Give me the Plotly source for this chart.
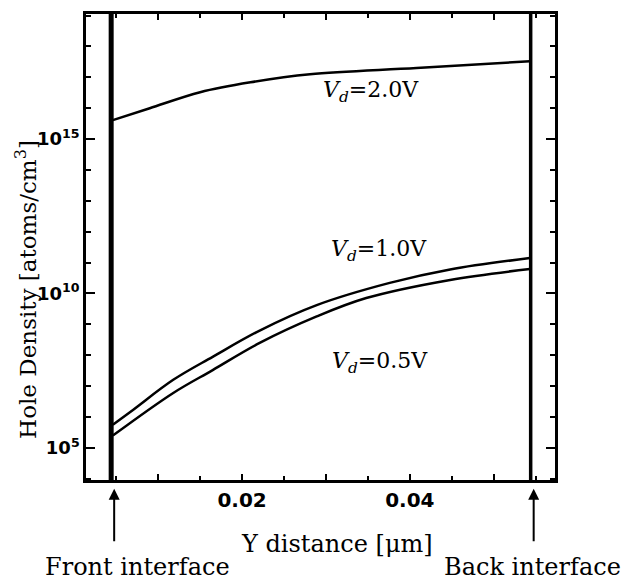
import plotly.graph_objects as go

# ---- data ----
x_vd20 = [0.0046, 0.0090, 0.0150, 0.0210, 0.0281, 0.0408, 0.0543]
n_vd20 = [4.1e15, 1.0e16, 3.3e16, 6.9e16, 1.26e17, 2.0e17, 3.3e17]

x_vd10 = [0.0046, 0.0070, 0.0118, 0.0165, 0.0221, 0.0289, 0.0376, 0.0448, 0.0543]
n_vd10 = [5.6e5, 1.7e6, 1.6e7, 8.9e7, 6.3e8, 4.2e9, 2.2e10, 6.0e10, 1.4e11]

x_vd05 = [0.0046, 0.0118, 0.0165, 0.0221, 0.0289, 0.0348, 0.0448, 0.0543]
n_vd05 = [2.5e5, 6.0e6, 3.3e7, 2.5e8, 1.8e9, 7.1e9, 2.75e10, 6.2e10]

interfaces = [0.0044, 0.0544]
interface_names = ["Front interface", "Back interface"]

x_tickvals = [0.01, 0.02, 0.03, 0.04, 0.05]
x_ticktext = ["", "0.02", "", "0.04", ""]
y_tickvals = [1e5, 1e10, 1e15]
y_ticktext = ["10<sup>5</sup>", "10<sup>10</sup>", "10<sup>15</sup>"]
y_minor = [10.0 ** k for k in range(4, 20)]

labels = ["<i>V<sub>d</sub></i>=2.0V", "<i>V<sub>d</sub></i>=1.0V", "<i>V<sub>d</sub></i>=0.5V"]
label_x = [0.0354, 0.0363, 0.0364]
label_logy = [16.55, 11.38, 7.75]

SERIF = "DejaVu Serif"
SANS = "DejaVu Sans"

fig = go.Figure()
for xs, ys in [(x_vd20, n_vd20), (x_vd10, n_vd10), (x_vd05, n_vd05)]:
    fig.add_trace(go.Scatter(x=xs, y=ys, mode="lines",
                             line=dict(color="black", width=2.5, shape="spline", smoothing=1.0),
                             showlegend=False, hoverinfo="skip"))

# interface lines
for xi, w in zip(interfaces, [5, 3.5]):
    fig.add_shape(type="line", xref="x", yref="paper", x0=xi, x1=xi, y0=0, y1=1,
                  line=dict(color="black", width=w))

# arrows and interface labels
for xi, name, tx in zip(interfaces, interface_names, [0.109, 0.953]):
    fig.add_annotation(x=xi, y=-0.019, xref="x", yref="paper", text="", showarrow=True,
                       ax=0, ay=54, arrowhead=2, arrowsize=1.1, arrowwidth=2, arrowcolor="black",
                       xshift=3)
    fig.add_annotation(x=tx, y=-0.186, xref="paper", yref="paper", text=name, showarrow=False,
                       font=dict(family=SERIF, size=24, color="black"), xanchor="center", yanchor="middle")

# Vd labels
for t, lx, ly in zip(labels, label_x, label_logy):
    fig.add_annotation(x=lx, y=ly, xref="x", yref="y", text=t, showarrow=False,
                       font=dict(family=SERIF, size=22, color="black"), xanchor="center", yanchor="middle")

# axis titles
fig.add_annotation(x=0.535, y=-0.137, xref="paper", yref="paper", text="Y distance [μm]",
                   showarrow=False, font=dict(family=SERIF, size=24, color="black"),
                   xanchor="center", yanchor="middle")
fig.add_annotation(x=-0.128, y=0.41, xref="paper", yref="paper",
                   text="Hole Density [atoms/cm<sup>3</sup>]", textangle=-90,
                   showarrow=False, font=dict(family=SERIF, size=23, color="black"),
                   xanchor="center", yanchor="middle")

fig.update_layout(
    width=631, height=582,
    margin=dict(l=86, r=76, t=14, b=102),
    paper_bgcolor="white", plot_bgcolor="white",
    showlegend=False,
    xaxis=dict(range=[0.0014, 0.0573], tickmode="array", tickvals=x_tickvals, ticktext=x_ticktext,
               ticks="inside", ticklen=6, tickwidth=1.5, tickcolor="black",
               showline=True, linewidth=2.5, linecolor="black", mirror="ticks",
               showgrid=False, zeroline=False,
               tickfont=dict(family=SANS, size=20, color="black", weight="bold"),
               minor=dict(dtick=0.005, tick0=0, ticks="inside", ticklen=4, tickwidth=1.5,
                          tickcolor="black", showgrid=False)),
    yaxis=dict(type="log", range=[3.96, 19.05], tickmode="array", tickvals=y_tickvals,
               ticktext=y_ticktext,
               ticks="inside", ticklen=9, tickwidth=1.5, tickcolor="black",
               showline=True, linewidth=2.5, linecolor="black", mirror="ticks",
               showgrid=False, zeroline=False,
               tickfont=dict(family=SANS, size=18, color="black", weight="bold"),
               minor=dict(tickmode="array", tickvals=y_minor, ticks="inside", ticklen=5,
                          tickwidth=1.5, tickcolor="black", showgrid=False)),
)

fig.write_html("out.html")
